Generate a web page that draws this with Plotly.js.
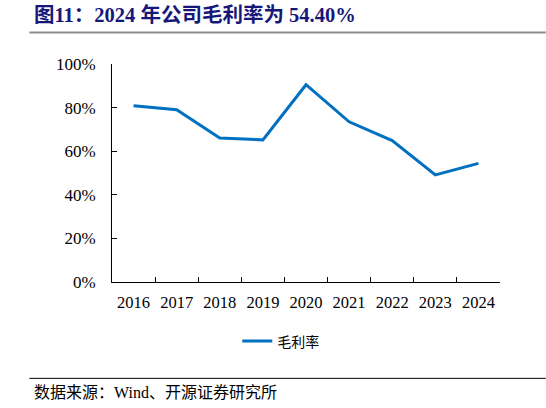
<!DOCTYPE html>
<html>
<head>
<meta charset="utf-8">
<script src="https://cdn.plot.ly/plotly-3.0.1.min.js"></script>
<style>
  html, body { margin: 0; padding: 0; background: #fff; }
  #chart { width: 546px; height: 408px; }
</style>
</head>
<body>
<div id="chart"></div>
<script>
// 毛利率 by year
const years = ["2016", "2017", "2018", "2019", "2020", "2021", "2022", "2023", "2024"];
const grossMargin = [80.8, 79.0, 66.1, 65.2, 90.5, 73.5, 64.9, 49.1, 54.4];
const yTicks = [0, 20, 40, 60, 80, 100];
const yTickText = ["0%", "20%", "40%", "60%", "80%", "100%"];

const serif = "'Liberation Serif', 'Times New Roman', serif";
const cjk = "'Liberation Serif', 'Noto Sans CJK SC', serif";

const data = [
  {
    x: years,
    y: grossMargin,
    type: "scatter",
    mode: "lines",
    name: "毛利率",
    line: { color: "#0070c0", width: 3 },
    hoverinfo: "x+y",
  },
];

const layout = {
  width: 546,
  height: 408,
  margin: { l: 112, r: 46, t: 64, b: 126, pad: 0 },
  paper_bgcolor: "#fff",
  plot_bgcolor: "#fff",
  showlegend: true,
  legend: {
    orientation: "h",
    x: 0.435,
    xanchor: "center",
    y: -0.273,
    yanchor: "middle",
    font: { family: cjk, size: 14, color: "#000" },
  },
  xaxis: {
    type: "category",
    range: [-0.5, 8.5],
    showline: true,
    linecolor: "#000",
    linewidth: 1,
    ticks: "inside",
    ticklen: 5,
    tickcolor: "#000",
    tickson: "boundaries",
    showgrid: false,
    zeroline: false,
    ticklabelstandoff: 5,
    tickfont: { family: serif, size: 16.5, color: "#000" },
    fixedrange: true,
  },
  yaxis: {
    range: [0, 100],
    tickmode: "array",
    tickvals: yTicks,
    ticktext: yTickText,
    showline: true,
    linecolor: "#000",
    linewidth: 1,
    ticks: "inside",
    ticklen: 5,
    tickcolor: "#000",
    showgrid: false,
    zeroline: false,
    ticklabelstandoff: 12,
    tickfont: { family: serif, size: 17, color: "#000" },
    fixedrange: true,
  },
  annotations: [
    {
      text: "<b>图11：2024 年公司毛利率为 54.40%</b>",
      xref: "paper",
      yref: "paper",
      x: -0.206,
      y: 1.225,
      xanchor: "left",
      yanchor: "middle",
      showarrow: false,
      font: { family: cjk, size: 20.5, color: "#17177a" },
    },
    {
      text: "数据来源：Wind、开源证券研究所",
      xref: "paper",
      yref: "paper",
      x: -0.206,
      y: -0.505,
      xanchor: "left",
      yanchor: "middle",
      showarrow: false,
      font: { family: cjk, size: 16, color: "#000" },
    },
  ],
  shapes: [
    {
      type: "line",
      xref: "paper",
      yref: "paper",
      x0: -0.213,
      x1: 1.118,
      y0: 1.144,
      y1: 1.144,
      line: { color: "#8c8c8c", width: 2 },
    },
    {
      type: "line",
      xref: "paper",
      yref: "paper",
      x0: -0.213,
      x1: 1.118,
      y0: -0.442,
      y1: -0.442,
      line: { color: "#000", width: 1 },
    },
  ],
};

const config = { displayModeBar: false, staticPlot: true };

Plotly.newPlot("chart", data, layout, config);
</script>
</body>
</html>
